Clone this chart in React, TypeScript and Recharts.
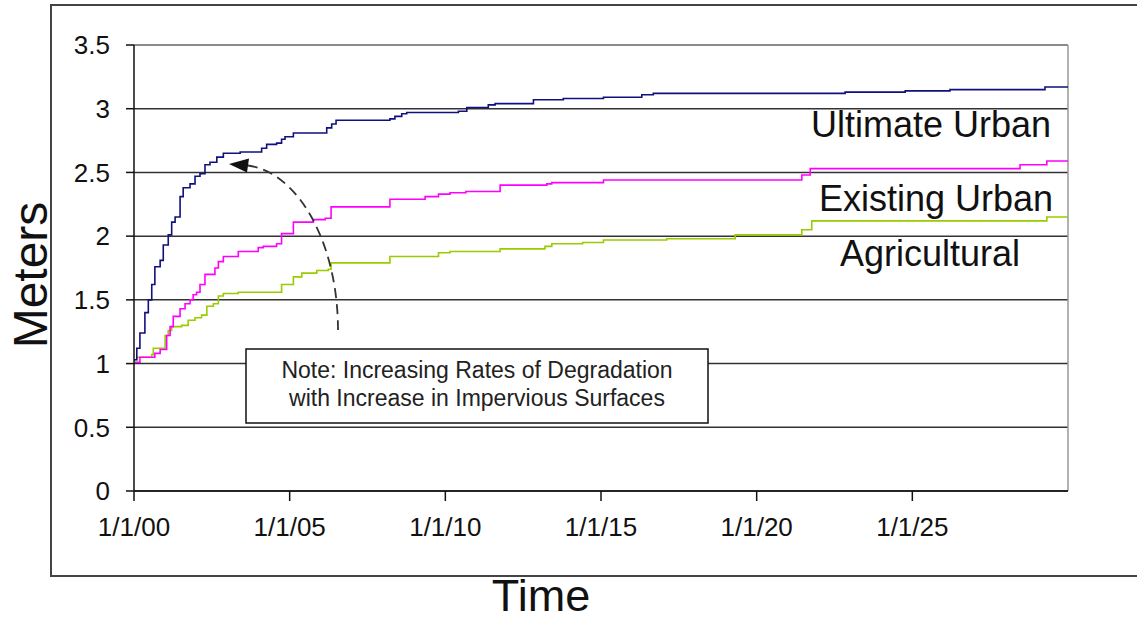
import { LineChart, Line, XAxis, YAxis, CartesianGrid, ReferenceLine } from "recharts";

// [years since 1/1/00, meters]
const ultimateUrban: [number, number][] = [
  [0, 1.03], [0.09, 1.12], [0.19, 1.24], [0.35, 1.4], [0.46, 1.5], [0.57, 1.62],
  [0.67, 1.76], [0.84, 1.81], [0.94, 1.93], [1.1, 2.01], [1.21, 2.11], [1.32, 2.15],
  [1.48, 2.31], [1.58, 2.38], [1.8, 2.41], [1.96, 2.47], [2.12, 2.49], [2.28, 2.56],
  [2.44, 2.58], [2.66, 2.62], [2.87, 2.65], [3.41, 2.66], [4.1, 2.69], [4.26, 2.72],
  [4.58, 2.73], [4.74, 2.76], [4.85, 2.78], [5.12, 2.81], [6.19, 2.85], [6.35, 2.88],
  [6.49, 2.91], [8.22, 2.92], [8.38, 2.94], [8.6, 2.96], [8.76, 2.97], [10.42, 2.98],
  [10.69, 3.01], [11.38, 3.03], [11.6, 3.04], [12.83, 3.07], [13.79, 3.08], [15.08, 3.09],
  [16.31, 3.11], [16.68, 3.12], [22.84, 3.13], [24.77, 3.14], [26.21, 3.15], [29.26, 3.17],
  [30, 3.17],
];

const existingUrban: [number, number][] = [
  [0, 1.01], [0.19, 1.05], [0.67, 1.08], [0.84, 1.11], [1.05, 1.22], [1.16, 1.29],
  [1.26, 1.37], [1.48, 1.43], [1.64, 1.47], [1.8, 1.5], [1.9, 1.54], [2.01, 1.56],
  [2.12, 1.62], [2.28, 1.7], [2.6, 1.75], [2.71, 1.8], [2.87, 1.84], [3.35, 1.88],
  [3.99, 1.91], [4.15, 1.92], [4.58, 1.94], [4.74, 2.02], [5.12, 2.11], [5.76, 2.13],
  [6.14, 2.14], [6.33, 2.23], [8.22, 2.29], [9.35, 2.31], [9.78, 2.33], [10.15, 2.34],
  [10.66, 2.35], [11.76, 2.4], [13.26, 2.41], [13.42, 2.42], [15.08, 2.44], [21.45, 2.48],
  [21.72, 2.53], [28.46, 2.56], [29.32, 2.59], [30, 2.59],
];

const agricultural: [number, number][] = [
  [0, 1.03], [0.09, 1.05], [0.57, 1.07], [0.62, 1.12], [1.0, 1.22], [1.1, 1.26],
  [1.21, 1.29], [1.53, 1.3], [1.74, 1.34], [1.96, 1.36], [2.17, 1.38], [2.34, 1.45],
  [2.55, 1.47], [2.71, 1.53], [2.87, 1.55], [3.35, 1.56], [4.74, 1.62], [5.12, 1.68],
  [5.39, 1.71], [5.87, 1.73], [6.24, 1.74], [6.33, 1.79], [8.22, 1.84], [9.78, 1.87],
  [10.15, 1.88], [11.76, 1.9], [13.2, 1.92], [13.42, 1.94], [14.41, 1.95], [15.08, 1.97],
  [17.11, 1.98], [19.31, 2.01], [21.45, 2.05], [21.77, 2.12], [29.32, 2.15], [30, 2.15],
];

const xTicks = [0, 5, 10, 15, 20, 25];
const xTickLabels = ["1/1/00", "1/1/05", "1/1/10", "1/1/15", "1/1/20", "1/1/25"];
const yTicks = [0, 0.5, 1, 1.5, 2, 2.5, 3, 3.5];

const toRows = (pts: [number, number][]) => pts.map(([t, v]) => ({ t, v }));

const font = "'Liberation Sans', Arial, sans-serif";

export default function App() {
  return (
    <div style={{ position: "absolute", left: 0, top: 0, width: 1137, height: 622, background: "#fff", overflow: "hidden", fontFamily: font }}>
      {/* outer frame */}
      <div style={{ position: "absolute", left: 50, top: 4, width: 1120, height: 569, border: "2px solid #444" }} />

      <div style={{ position: "absolute", left: 0, top: 0 }}>
        <LineChart width={1137} height={622} margin={{ top: 45, right: 69, left: 50, bottom: 81 }}>
          <CartesianGrid vertical={false} stroke="#333" strokeWidth={1.5} />
          <ReferenceLine y={3.5} stroke="#999" strokeWidth={1.5} />
          <ReferenceLine x={30} stroke="#999" strokeWidth={1.5} />
          <XAxis
            type="number"
            dataKey="t"
            domain={[0, 30]}
            ticks={xTicks}
            interval={0}
            height={50}
            tickSize={10}
            tickMargin={17}
            tickFormatter={(v: number) => xTickLabels[xTicks.indexOf(v)]}
            tick={{ fill: "#111", fontSize: 26, fontFamily: font }}
            axisLine={{ stroke: "#111", strokeWidth: 1.5 }}
            tickLine={{ stroke: "#111", strokeWidth: 1.5 }}
          />
          <YAxis
            type="number"
            domain={[0, 3.5]}
            ticks={yTicks}
            interval={0}
            width={84}
            tickSize={8}
            tickMargin={16}
            tick={{ fill: "#111", fontSize: 26, fontFamily: font }}
            axisLine={{ stroke: "#111", strokeWidth: 1.5 }}
            tickLine={{ stroke: "#111", strokeWidth: 1.5 }}
          />
          <Line data={toRows(agricultural)} dataKey="v" type="stepAfter" stroke="#99cc00" strokeWidth={1.6} dot={false} isAnimationActive={false} />
          <Line data={toRows(existingUrban)} dataKey="v" type="stepAfter" stroke="#ff00ff" strokeWidth={1.6} dot={false} isAnimationActive={false} />
          <Line data={toRows(ultimateUrban)} dataKey="v" type="stepAfter" stroke="#10107f" strokeWidth={1.6} dot={false} isAnimationActive={false} />
        </LineChart>
      </div>

      <svg width={1137} height={622} style={{ position: "absolute", left: 0, top: 0, pointerEvents: "none" }} fontFamily={font}>
        <text x={931} y={137} textAnchor="middle" fontSize={36} fill="#111">Ultimate Urban</text>
        <text x={936} y={211} textAnchor="middle" fontSize={36} fill="#111">Existing Urban</text>
        <text x={930} y={266} textAnchor="middle" fontSize={36} fill="#111">Agricultural</text>

        <text transform="translate(47,275) rotate(-90)" textAnchor="middle" fontSize={48} fill="#111">Meters</text>
        <text x={541} y={611} textAnchor="middle" fontSize={45} fill="#111">Time</text>

        {/* note */}
        <rect x={246} y={349} width={462} height={74} fill="#fff" stroke="#111" strokeWidth={1.5} />
        <text x={477} y={378} textAnchor="middle" fontSize={23} fill="#222">Note: Increasing Rates of Degradation</text>
        <text x={477} y={406} textAnchor="middle" fontSize={23} fill="#222">with Increase in Impervious Surfaces</text>

        {/* dashed arrow */}
        <path d="M 338 330 A 98 165 0 0 0 248 165.5" fill="none" stroke="#333" strokeWidth={1.8} strokeDasharray="10 6" />
        <polygon points="229,164 249,158.5 247,172.5" fill="#111" />
      </svg>
    </div>
  );
}
